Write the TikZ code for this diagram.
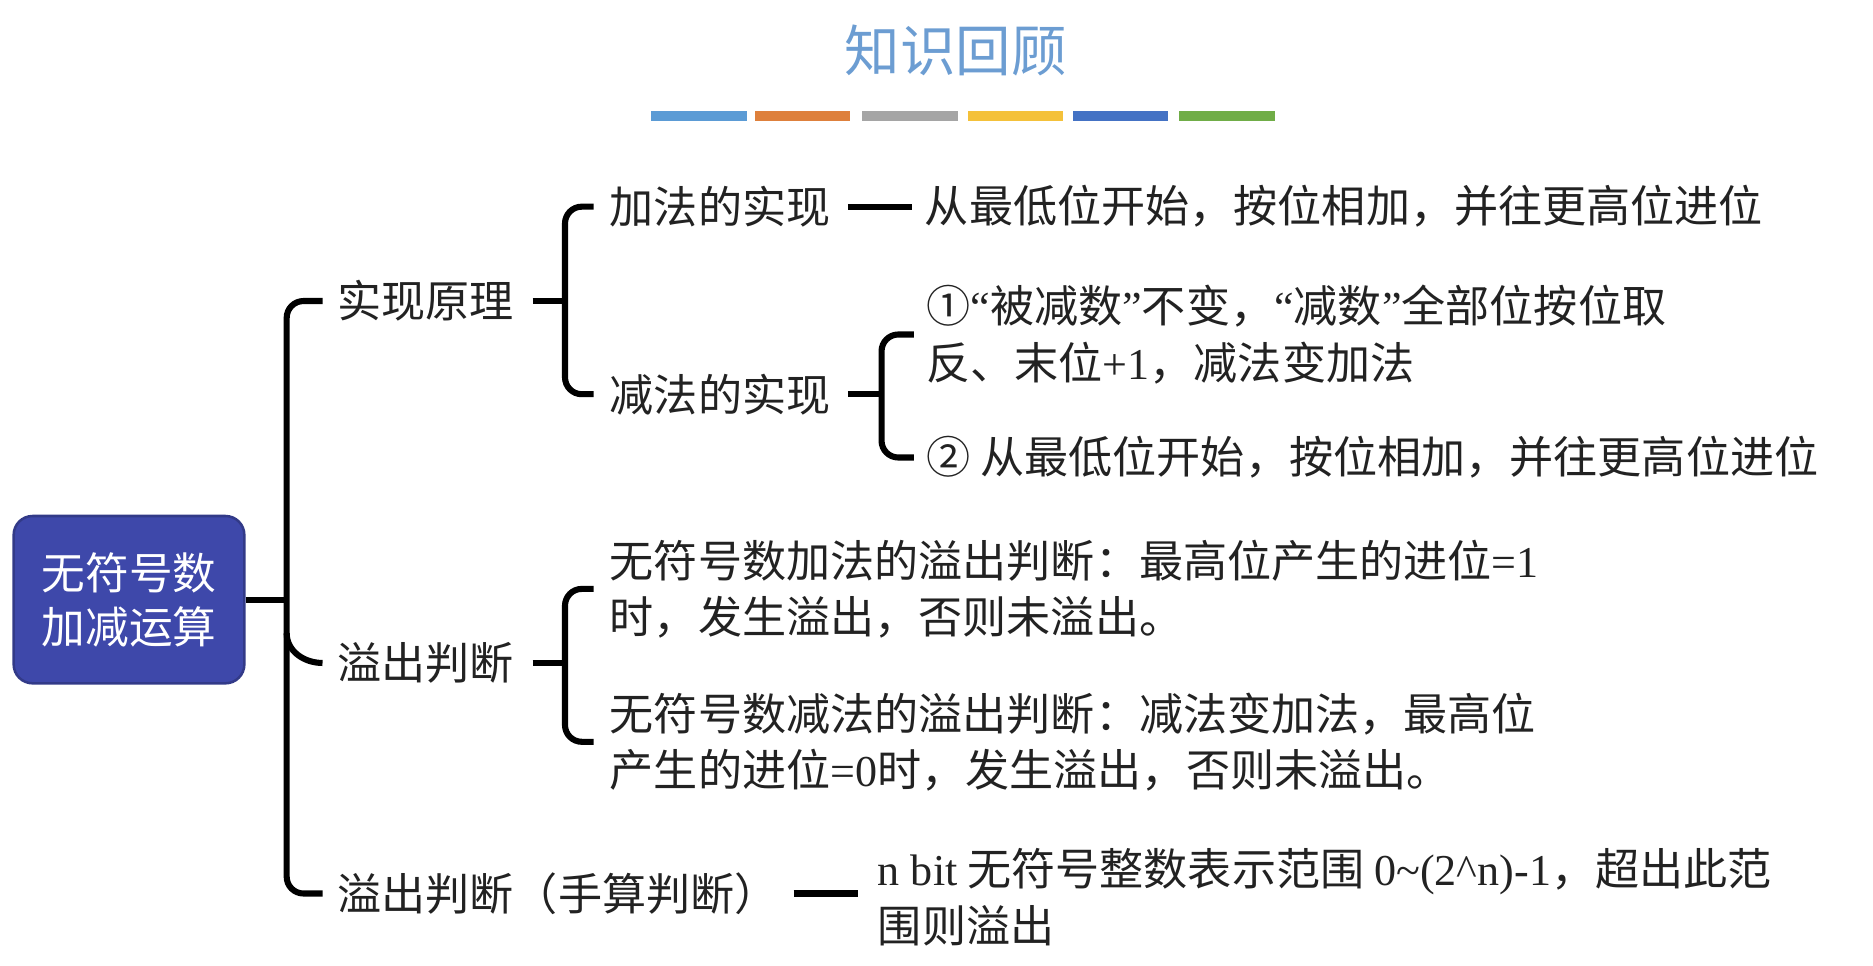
\documentclass[tikz,border=0pt]{standalone}
\usepackage{fontspec}
\setmainfont{Noto Sans CJK SC}
\newfontfamily\lat{Liberation Serif}
\usepackage{tikz}
\usetikzlibrary{positioning,calc}
\definecolor{titleblue}{RGB}{108,157,210}
\definecolor{rootblue}{RGB}{62,72,170}
\definecolor{txtgray}{RGB}{34,34,34}
\definecolor{barA}{RGB}{91,155,213}
\definecolor{barB}{RGB}{222,128,60}
\definecolor{barC}{RGB}{165,165,165}
\definecolor{barD}{RGB}{244,193,58}
\definecolor{barE}{RGB}{68,114,196}
\definecolor{barF}{RGB}{112,173,71}

\begin{document}
\begin{tikzpicture}[x=0.01cm,y=-0.01cm,line width=1.45pt,
  lbl/.style={inner sep=0pt,anchor=west,align=left,text=txtgray,
    font=\fontsize{10.5}{13.4}\selectfont},
  brk/.style={rounded corners=4pt}]
\useasboundingbox (0,0) rectangle (1568,808);

% title and colour strip
\node[text=titleblue,font=\fontsize{13.2}{15}\selectfont,inner sep=0pt] (title) at (800,42) {知识回顾};
\fill[barA] (545,93) rectangle (625,101);
\fill[barB] (632,93) rectangle (712,101);
\fill[barC] (722,93) rectangle (802,101);
\fill[barD] (810,93) rectangle (890,101);
\fill[barE] (898,93) rectangle (978,101);
\fill[barF] (987,93) rectangle (1067,101);

\node[fill=rootblue,draw=rootblue!80!black,line width=0.6pt,rounded corners=4.5pt,
  minimum width=1.93cm,minimum height=1.40cm,align=center,text=white,
  font=\fontsize{10.4}{12.8}\selectfont] (root) at (108,502) {无符号数\\加减运算};

\node[lbl] (p1) at (280,252) {实现原理};
\node[lbl] (p2) at (280,555) {溢出判断};
\node[lbl] (p3) at (280,748) {溢出判断（手算判断）};

\node[lbl] (a1) at (508,173) {加法的实现};
\node[lbl] (a2) at (508,330) {减法的实现};
\node[lbl] (a1t) [right=0.74cm of a1] {从最低位开始，按位相加，并往更高位进位};

\node[lbl] (s1) at (773,280) {①{\lat “}被减数{\lat ”}不变，{\lat “}减数{\lat ”}全部位按位取\\反、末位{\lat +1}，减法变加法};
\node[lbl] (s2) at (773,383) {② 从最低位开始，按位相加，并往更高位进位};

\node[lbl] (o1) at (508,493) {无符号数加法的溢出判断：最高位产生的进位{\lat =1}\\时，发生溢出，否则未溢出。};
\node[lbl] (o2) at (508,621) {无符号数减法的溢出判断：减法变加法，最高位\\产生的进位{\lat =0}时，发生溢出，否则未溢出。};

\node[lbl] (m1) [right=0.78cm of p3, yshift=-0.03cm] {{\lat n bit} 无符号整数表示范围 {\lat 0\textasciitilde(2\textasciicircum n)-1}，超出此范\\围则溢出};

% brackets
\coordinate (mb) at (240,502);
\draw (root.east) -- (mb);
\draw[brk] ($(p1.west)+(-10,0)$) -| (mb) |- ($(p3.west)+(-10,0)$);
\draw ($(mb)+(0,28)$) to[out=-90,in=180] ($(p2.west)+(-10,0)$);

\coordinate (b1) at (473,252);
\draw ($(p1.east)+(13,0)$) -- (b1);
\draw[brk] ($(a1.west)+(-11,0)$) -| (b1) |- ($(a2.west)+(-11,0)$);

\draw ($(a1.east)+(12,0)$) -- ($(a1t.west)+(-8,0)$);

\coordinate (b2) at (738,330);
\draw ($(a2.east)+(12,0)$) -- (b2);
\draw[brk] ($(s1.west)+(-8,0)$) -| (b2) |- ($(s2.west)+(-8,0)$);

\coordinate (b3) at (473,555);
\draw ($(p2.east)+(13,0)$) -- (b3);
\draw[brk] ($(o1.west)+(-11,0)$) -| (b3) |- ($(o2.west)+(-11,0)$);

\draw ($(p3.east)+(10,0)$) -- ($(p3.east -| m1.west)+(-14,0)$);
\end{tikzpicture}
\end{document}
